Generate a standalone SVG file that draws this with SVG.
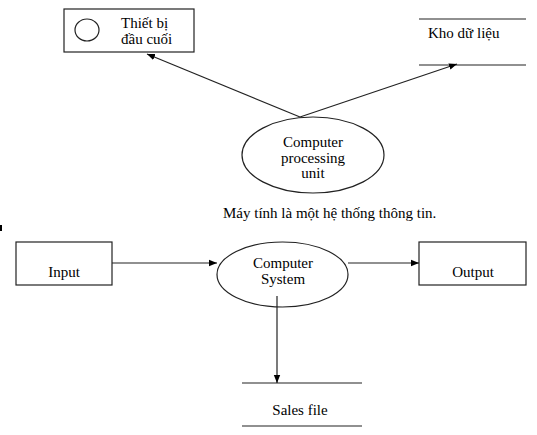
<svg xmlns="http://www.w3.org/2000/svg" width="537" height="435" viewBox="0 0 537 435">
<style>
.s{fill:none;stroke:#222;stroke-width:1.2}
.c{stroke:#222;stroke-width:1.2;fill:none}
.t{font-family:'Liberation Serif','DejaVu Serif','Times New Roman',serif;font-size:15px;fill:#000}
.m{text-anchor:middle}
</style>
<defs>
<marker id="a" viewBox="0 0 10 10" refX="10" refY="5" markerWidth="8" markerHeight="8" markerUnits="userSpaceOnUse" orient="auto">
<path d="M0,1 L10,5 L0,9 z" fill="#000"/>
</marker>
</defs>
<rect x="0" y="225" width="2" height="6" fill="#000"/>
<g id="terminal">
<rect class="s" x="64" y="9" width="130" height="43"/>
<ellipse class="s" cx="87" cy="30" rx="12" ry="11"/>
<text class="t" x="121" y="28">Thiết bị</text>
<text class="t" x="121" y="44">đầu cuối</text>
</g>
<g id="datastore">
<line class="s" x1="419" y1="19" x2="526" y2="19"/>
<line class="s" x1="419" y1="65" x2="526" y2="65"/>
<text class="t" x="428" y="38">Kho dữ liệu</text>
</g>
<g id="cpu">
<ellipse class="s" cx="313" cy="155" rx="71" ry="38"/>
<text class="t m" x="313" y="147">Computer</text>
<text class="t m" x="313" y="163">processing</text>
<text class="t m" x="313" y="178">unit</text>
</g>
<g id="caption">
<text class="t" x="223" y="218">Máy tính là một hệ thống thông tin.</text>
</g>
<g id="input">
<rect class="s" x="16" y="242" width="96" height="43"/>
<text class="t m" x="64" y="277">Input</text>
</g>
<g id="system">
<ellipse class="s" cx="282.5" cy="274.5" rx="65.5" ry="32.5"/>
<text class="t m" x="283" y="268">Computer</text>
<text class="t m" x="283" y="284">System</text>
</g>
<g id="output">
<rect class="s" x="419" y="242" width="107" height="43"/>
<text class="t m" x="473" y="277">Output</text>
</g>
<g id="salesfile">
<line class="s" x1="242" y1="383" x2="362" y2="383"/>
<line class="s" x1="242" y1="426" x2="362" y2="426"/>
<text class="t m" x="300" y="415">Sales file</text>
</g>
<g id="connectors">
<line class="c" x1="300" y1="117" x2="147" y2="54" marker-end="url(#a)"/>
<line class="c" x1="300" y1="117" x2="457" y2="64" marker-end="url(#a)"/>
<line class="c" x1="112" y1="263" x2="217" y2="263" marker-end="url(#a)"/>
<line class="c" x1="348" y1="263" x2="419" y2="263" marker-end="url(#a)"/>
<line class="c" x1="277" y1="296" x2="277" y2="383" marker-end="url(#a)"/>
</g>
</svg>
